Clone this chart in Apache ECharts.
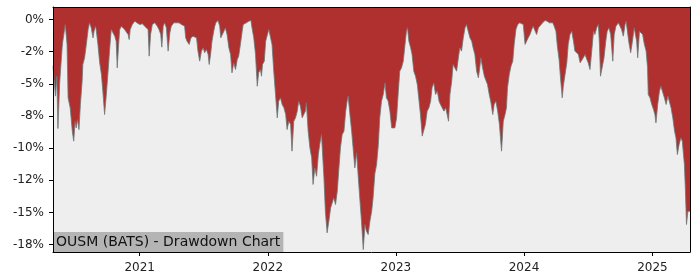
<!DOCTYPE html>
<html>
<head>
<meta charset="utf-8">
<script src="https://cdn.jsdelivr.net/npm/echarts@6/dist/echarts.min.js"></script>
<style>html,body{margin:0;padding:0;background:#fff}#c{width:700px;height:280px}</style>
</head>
<body>
<div id="c"></div>
<script>
const chartTitle = 'OUSM (BATS) - Drawdown Chart';
const yTickValues = [0, -2.5, -5, -7.5, -10, -12.5, -15, -17.5];
const yTickLabels = ['0%', '-2%', '-5%', '-8%', '-10%', '-12%', '-15%', '-18%'];
const xTickDates = ['2021-01-01', '2022-01-01', '2023-01-01', '2024-01-01', '2025-01-01'];
const xTickLabels = ['2021', '2022', '2023', '2024', '2025'];

const dates = [
'2020-04-29','2020-05-06','2020-05-10','2020-05-13','2020-05-18','2020-05-25','2020-05-27','2020-06-03','2020-06-06','2020-06-08',
'2020-06-11','2020-06-17','2020-06-23','2020-06-27','2020-07-01','2020-07-04','2020-07-08','2020-07-12','2020-07-16','2020-07-21',
'2020-07-23','2020-07-28','2020-08-02','2020-08-07','2020-08-11','2020-08-16','2020-08-21','2020-08-24','2020-08-28','2020-08-30',
'2020-09-04','2020-09-09','2020-09-14','2020-09-18','2020-09-23','2020-09-28','2020-10-03','2020-10-07','2020-10-12','2020-10-17',
'2020-10-22','2020-10-26','2020-10-29','2020-11-02','2020-11-05','2020-11-10','2020-11-14','2020-11-19','2020-11-24','2020-11-29',
'2020-12-02','2020-12-05','2020-12-11','2020-12-18','2020-12-24','2021-01-01','2021-01-09','2021-01-15','2021-01-20','2021-01-25',
'2021-01-28','2021-02-01','2021-02-06','2021-02-13','2021-02-20','2021-02-25','2021-03-02','2021-03-05','2021-03-09','2021-03-13',
'2021-03-18','2021-03-23','2021-03-28','2021-04-01','2021-04-08','2021-04-16','2021-04-23','2021-04-30','2021-05-05','2021-05-09',
'2021-05-12','2021-05-16','2021-05-22','2021-05-27','2021-06-02','2021-06-07','2021-06-12','2021-06-16','2021-06-21','2021-06-26',
'2021-07-01','2021-07-05','2021-07-10','2021-07-15','2021-07-18','2021-07-22','2021-07-26','2021-07-31','2021-08-03','2021-08-06',
'2021-08-12','2021-08-17','2021-08-20','2021-08-25','2021-08-29','2021-09-02','2021-09-07','2021-09-12','2021-09-17','2021-09-21',
'2021-09-26','2021-10-01','2021-10-06','2021-10-10','2021-10-15','2021-10-20','2021-10-23','2021-10-27','2021-11-01','2021-11-08',
'2021-11-14','2021-11-17','2021-11-22','2021-11-27','2021-12-02','2021-12-06','2021-12-11','2021-12-14','2021-12-17','2021-12-22',
'2021-12-26','2021-12-31','2022-01-04','2022-01-09','2022-01-13','2022-01-18','2022-01-23','2022-01-28','2022-02-01','2022-02-06',
'2022-02-11','2022-02-16','2022-02-21','2022-02-25','2022-03-02','2022-03-07','2022-03-11','2022-03-16','2022-03-21','2022-03-26',
'2022-03-30','2022-04-04','2022-04-09','2022-04-14','2022-04-18','2022-04-21','2022-04-26','2022-05-01','2022-05-06','2022-05-10',
'2022-05-15','2022-05-20','2022-05-25','2022-05-29','2022-06-03','2022-06-06','2022-06-10','2022-06-14','2022-06-19','2022-06-24',
'2022-06-29','2022-07-03','2022-07-08','2022-07-13','2022-07-18','2022-07-22','2022-07-27','2022-08-01','2022-08-06','2022-08-11',
'2022-08-15','2022-08-18','2022-08-23','2022-08-28','2022-09-01','2022-09-06','2022-09-11','2022-09-16','2022-09-20','2022-09-25',
'2022-09-30','2022-10-05','2022-10-09','2022-10-14','2022-10-19','2022-10-24','2022-10-28','2022-11-02','2022-11-07','2022-11-12',
'2022-11-16','2022-11-21','2022-11-26','2022-12-01','2022-12-05','2022-12-10','2022-12-15','2022-12-20','2022-12-24','2022-12-29',
'2023-01-03','2023-01-08','2023-01-12','2023-01-17','2023-01-22','2023-01-27','2023-01-31','2023-02-03','2023-02-07','2023-02-12',
'2023-02-16','2023-02-21','2023-02-26','2023-03-03','2023-03-07','2023-03-12','2023-03-17','2023-03-22','2023-03-26','2023-03-31',
'2023-04-05','2023-04-10','2023-04-14','2023-04-19','2023-04-24','2023-04-29','2023-05-04','2023-05-08','2023-05-13','2023-05-18',
'2023-05-23','2023-05-27','2023-05-31','2023-06-04','2023-06-09','2023-06-13','2023-06-18','2023-06-23','2023-06-28','2023-07-02',
'2023-07-07','2023-07-12','2023-07-17','2023-07-21','2023-07-26','2023-07-31','2023-08-05','2023-08-09','2023-08-14','2023-08-19',
'2023-08-24','2023-08-28','2023-08-31','2023-09-05','2023-09-10','2023-09-15','2023-09-19','2023-09-24','2023-09-29','2023-10-04',
'2023-10-08','2023-10-13','2023-10-18','2023-10-23','2023-10-26','2023-10-29','2023-11-03','2023-11-08','2023-11-12','2023-11-15',
'2023-11-20','2023-11-25','2023-11-30','2023-12-04','2023-12-09','2023-12-14','2023-12-20','2023-12-25','2023-12-30','2024-01-04',
'2024-01-08','2024-01-13','2024-01-18','2024-01-23','2024-01-27','2024-02-01','2024-02-06','2024-02-11','2024-02-15','2024-02-23',
'2024-03-01','2024-03-07','2024-03-13','2024-03-18','2024-03-23','2024-03-27','2024-04-01','2024-04-05','2024-04-10','2024-04-14',
'2024-04-19','2024-04-22','2024-04-27','2024-05-02','2024-05-06','2024-05-11','2024-05-16','2024-05-21','2024-05-25','2024-05-30',
'2024-06-04','2024-06-09','2024-06-13','2024-06-18','2024-06-23','2024-06-28','2024-07-02','2024-07-07','2024-07-12','2024-07-17',
'2024-07-21','2024-07-26','2024-07-31','2024-08-03','2024-08-06','2024-08-11','2024-08-16','2024-08-21','2024-08-25','2024-08-30',
'2024-09-04','2024-09-10','2024-09-14','2024-09-19','2024-09-26','2024-10-01','2024-10-05','2024-10-10','2024-10-15','2024-10-18',
'2024-10-21','2024-10-26','2024-10-31','2024-11-05','2024-11-10','2024-11-14','2024-11-17','2024-11-20','2024-11-25','2024-11-29',
'2024-12-04','2024-12-09','2024-12-14','2024-12-18','2024-12-20','2024-12-25','2024-12-30','2025-01-04','2025-01-08','2025-01-11',
'2025-01-16','2025-01-21','2025-01-25','2025-01-30','2025-02-04','2025-02-09','2025-02-14','2025-02-18','2025-02-23','2025-02-28',
'2025-03-05','2025-03-09','2025-03-13','2025-03-18','2025-03-23','2025-03-27','2025-03-30','2025-04-02','2025-04-05','2025-04-08',
'2025-04-12','2025-04-15','2025-04-18'
];

const drawdown = [
-3.6,-5.96,-4.41,-8.48,-4.93,-2.20,-1.69,-0.39,-0.26,-1.94,
-6.09,-6.87,-8.69,-9.46,-7.91,-8.43,-7.78,-8.56,-6.61,-4.80,
-3.50,-2.98,-1.94,-0.78,-0.26,-0.65,-1.43,-0.91,-0.52,-0.78,
-1.94,-3.37,-4.28,-5.57,-7.39,-5.83,-4.02,-2.46,-0.78,-0.91,
-1.30,-1.69,-3.76,-1.94,-0.78,-0.52,-0.39,-0.78,-0.65,-1.17,
-1.56,-0.78,-0.39,-0.13,-0.26,-0.39,-0.34,-0.52,-0.39,-0.78,
-2.85,-1.17,-0.39,-0.26,-0.52,-0.78,-1.17,-2.15,-0.52,-0.26,
-0.65,-2.46,-1.04,-0.52,-0.26,-0.26,-0.26,-0.39,-0.26,-0.52,
-1.43,-1.69,-1.94,-1.43,-1.30,-1.17,-1.43,-2.46,-3.24,-2.46,
-2.20,-2.59,-2.33,-2.72,-3.50,-2.72,-1.69,-0.91,-0.52,-0.26,
-0.08,-0.52,-1.43,-1.30,-0.91,-0.65,-1.17,-2.20,-2.72,-4.15,
-3.37,-3.89,-3.11,-2.85,-1.94,-0.91,-0.39,-0.52,-0.26,-0.13,
-0.08,-0.65,-1.43,-2.72,-5.19,-4.15,-3.89,-4.41,-3.50,-3.24,
-1.69,-1.17,-0.78,-1.43,-1.94,-4.02,-5.83,-7.65,-6.35,-6.09,
-6.61,-6.87,-7.39,-8.56,-7.91,-8.17,-10.24,-7.91,-7.65,-7.13,
-6.35,-6.74,-7.65,-7.78,-7.13,-6.48,-8.69,-9.98,-10.76,-12.83,
-11.54,-12.19,-10.50,-9.72,-8.94,-8.82,-12.32,-14.91,-16.59,-15.69,
-14.65,-14.52,-13.87,-14.39,-13.35,-11.80,-9.98,-8.94,-8.69,-7.13,
-6.35,-5.96,-7.39,-8.69,-9.98,-11.54,-10.37,-12.32,-13.87,-15.69,
-17.89,-15.94,-16.46,-16.72,-15.69,-14.91,-13.87,-12.0,-11.28,-9.72,
-7.65,-6.35,-5.83,-4.93,-6.09,-6.35,-7.13,-8.43,-8.56,-8.43,
-7.65,-5.57,-4.02,-3.76,-3.24,-1.94,-0.91,-0.65,-1.69,-2.20,
-2.72,-4.02,-4.41,-5.06,-6.09,-7.39,-9.07,-9.07,-8.17,-7.13,
-6.87,-6.35,-5.31,-4.93,-5.83,-5.57,-6.35,-6.61,-6.74,-7.13,
-6.87,-7.39,-7.91,-5.83,-4.80,-3.50,-3.37,-4.02,-2.98,-2.20,
-2.46,-1.43,-0.65,-0.39,-0.91,-1.43,-1.69,-2.20,-2.72,-4.02,
-4.54,-3.76,-2.98,-3.76,-4.41,-4.54,-5.06,-5.83,-6.48,-7.39,
-6.61,-6.35,-7.13,-8.17,-9.20,-10.24,-7.91,-7.39,-6.87,-5.31,
-4.28,-3.63,-3.24,-1.94,-0.78,-0.39,-0.26,-0.13,-0.39,-1.94,
-1.81,-1.43,-1.17,-0.78,-0.52,-0.39,-1.17,-0.65,-0.52,-0.26,
-0.08,-0.13,-0.26,-0.39,-0.26,-0.52,-0.91,-2.07,-3.11,-4.54,
-6.09,-5.19,-5.06,-3.37,-1.94,-1.17,-0.91,-1.69,-2.46,-2.33,
-2.72,-3.37,-3.50,-2.98,-2.72,-3.11,-3.37,-3.89,-2.46,-0.91,
-1.17,-0.65,-0.39,-1.94,-4.41,-4.54,-2.98,-1.69,-0.91,-0.65,
-1.17,-3.24,-1.17,-0.52,-0.26,-0.13,-0.78,-1.30,-0.39,-0.13,
-0.78,-1.81,-2.59,-1.69,-0.65,-0.52,-1.69,-2.98,-0.91,-0.78,
-1.17,-1.94,-2.46,-3.76,-5.83,-6.09,-6.61,-7.00,-7.39,-8.04,
-6.61,-5.57,-5.19,-5.31,-6.09,-6.61,-5.96,-6.35,-6.87,-7.65,
-8.69,-9.20,-10.50,-9.72,-9.20,-9.46,-9.46,-11.28,-13.35,-15.94,
-14.91,-14.78,-14.91
];

const toTime = d => echarts.number.parseDate(d).getTime();
const seriesData = dates.map((d, i) => [toTime(d), drawdown[i]]);
const xTickValues = xTickDates.map(toTime);
const FONT = 'DejaVu Sans';

const chart = echarts.init(document.getElementById('c'), null, {renderer: 'canvas'});
chart.setOption({
  animation: false,
  backgroundColor: '#ffffff',
  title: {
    text: chartTitle,
    left: 53, bottom: 28,
    padding: [2, 3, 2, 3],
    backgroundColor: '#b4b4b4',
    textStyle: {fontFamily: FONT, fontSize: 14, fontWeight: 'normal', color: '#111', lineHeight: 16}
  },
  grid: {left: 53, right: 10, top: 7, bottom: 28, show: true, backgroundColor: '#eeeeee', borderWidth: 0},
  xAxis: [{
    type: 'value',
    min: toTime(dates[0]), max: toTime(dates[dates.length - 1]),
    z: 10,
    axisLine: {show: true, onZero: false, lineStyle: {color: '#000', width: 1}},
    axisTick: {show: true, length: 4, lineStyle: {color: '#000'}, customValues: xTickValues},
    axisLabel: {
      show: true, margin: 10, fontFamily: FONT, fontSize: 12, color: '#222',
      customValues: xTickValues,
      formatter: v => { const i = xTickValues.indexOf(v); return i >= 0 ? xTickLabels[i] : ''; }
    },
    splitLine: {show: false}
  }, {
    type: 'value', position: 'top', min: 0, max: 1, z: 10,
    axisLine: {show: true, onZero: false, lineStyle: {color: '#000', width: 1}},
    axisTick: {show: false}, axisLabel: {show: false}, splitLine: {show: false}
  }],
  yAxis: [{
    type: 'value',
    min: -18.08, max: 0.97,
    z: 10,
    axisLine: {show: true, onZero: false, lineStyle: {color: '#000', width: 1}},
    axisTick: {show: true, length: 4, lineStyle: {color: '#000'}, customValues: yTickValues},
    axisLabel: {
      show: true, margin: 9, fontFamily: FONT, fontSize: 12, color: '#222',
      customValues: yTickValues,
      formatter: v => { const i = yTickValues.indexOf(v); return i >= 0 ? yTickLabels[i] : ''; }
    },
    splitLine: {show: false}
  }, {
    type: 'value', position: 'right', min: 0, max: 1, z: 10,
    axisLine: {show: true, onZero: false, lineStyle: {color: '#000', width: 1}},
    axisTick: {show: false}, axisLabel: {show: false}, splitLine: {show: false}
  }],
  series: [{
    type: 'line',
    xAxisIndex: 0, yAxisIndex: 0,
    data: seriesData,
    showSymbol: false,
    symbol: 'none',
    lineStyle: {color: 'rgba(110,120,120,0.8)', width: 1},
    areaStyle: {color: '#b03030', opacity: 1, origin: 'end'},
    z: 2
  }]
});
</script>
</body>
</html>
